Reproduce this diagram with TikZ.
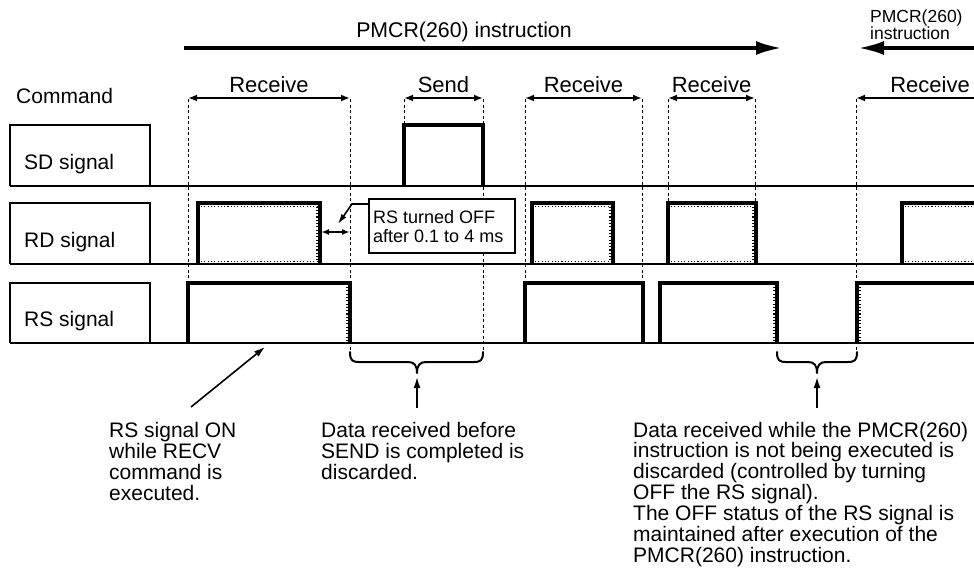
\documentclass[tikz,border=0pt]{standalone}
\usepackage{fontspec}
\setmainfont{Liberation Sans}
\usetikzlibrary{arrows.meta}
\begin{document}
\begin{tikzpicture}[x=1pt,y=-1pt,
  thinl/.style={line width=1.8pt},
  pulse/.style={line width=3.6pt, line join=miter},
  dotin/.style={line width=1.1pt, dash pattern=on 1.1pt off 2.2pt},
  guide/.style={line width=1pt, dash pattern=on 3pt off 2.5pt},
  lbl/.style={inner sep=0pt, anchor=base west, font=\fontsize{21}{21}\selectfont},
  cmd/.style={inner sep=0pt, anchor=base, font=\fontsize{22}{22}\selectfont},
  dimarrow/.style={line width=1.8pt, {Latex[length=9pt,width=7pt]}-{Latex[length=9pt,width=7pt]}},
  dimleft/.style={line width=1.8pt, {Latex[length=9pt,width=7pt]}-},
  bigarrow/.style={line width=4.5pt, -{Latex[length=27pt,width=14pt]}},
  ptr/.style={line width=1.6pt, -{Latex[length=11pt,width=7pt]}},
  bracel/.style={line width=2pt, line join=round, line cap=round}
]
\useasboundingbox (0,0) rectangle (974,570);
\fill[white] (0,0) rectangle (974,570);

% ---------- top instruction arrows ----------
\coordinate (a1s) at (184,48);
\coordinate (a1e) at (783,48);
\coordinate (a2s) at (974,48);
\coordinate (a2e) at (857,48);
\draw[bigarrow] (a1s) -- (a1e);
\draw[bigarrow] (a2s) -- (a2e);
\node[inner sep=0pt, anchor=base, font=\fontsize{21.3}{21}\selectfont] (instr) at (464,37) {PMCR(260) instruction};
\node[inner sep=0pt, anchor=base west, font=\fontsize{17.5}{17}\selectfont] (instr2) at (870,22)
  {\vtop{\baselineskip=17.5pt\hbox{PMCR(260)}\hbox{instruction}}};

% ---------- command row ----------
\node[lbl] (command) at (16,103) {Command};
\foreach \xa/\xb/\nm in {188/350/r1, 404/483/s1, 525/642/r2, 668/755/r3}{
  \coordinate (\nm L) at (\xa,98);
  \coordinate (\nm R) at (\xb,98);
  \draw[dimarrow] (\nm L) -- (\nm R);
}
\coordinate (r4L) at (856,98);
\coordinate (r4R) at (974,98);
\draw[dimleft] (r4L) -- (r4R);
\node[cmd] (rec1) at (269,92) {Receive};
\node[cmd] (send) at (443.5,92) {Send};
\node[cmd] (rec2) at (583.5,92) {Receive};
\node[cmd] (rec3) at (711.5,92) {Receive};
\node[cmd] (rec4) at (930,92) {Receive};

% ---------- guide lines ----------
\foreach \x/\yb in {188/283, 350/352, 404/125, 483/352, 525/283, 642/283, 668/203, 755/203, 856/352}{
  \draw[guide] (\x,99) -- (\x,\yb);
}

% ---------- SD signal ----------
\draw[thinl] (10,186) -- (974,186);
\draw[thinl] (10,186) -- (10,125) -- (150,125) -- (150,186);
\draw[pulse] (404,186) -- (404,125) -- (483,125) -- (483,186);
\node[lbl] (sd) at (24,169) {SD signal};

% ---------- RD signal ----------
\draw[thinl] (10,264) -- (974,264);
\draw[thinl] (10,264) -- (10,203) -- (150,203) -- (150,264);
\foreach \xa/\xb in {198/320, 532/613, 668/756}{
  \draw[dotin] (\xa+3,206.5) -- (\xb-3,206.5);
  \draw[dotin] (\xa+3,261.5) -- (\xb-3,261.5);
  \draw[dotin] (\xb-3,206.5) -- (\xb-3,261.5);
  \draw[pulse] (\xa,264) -- (\xa,203) -- (\xb,203) -- (\xb,264);
}
\draw[dotin] (905,206.5) -- (974,206.5);
\draw[dotin] (905,261.5) -- (974,261.5);
\draw[pulse] (902,264) -- (902,203) -- (976,203);
\node[lbl] (rd) at (24,247) {RD signal};

% ---------- RS signal ----------
\draw[line width=2.2pt] (10,343) -- (974,343);
\draw[thinl] (10,343) -- (10,283) -- (150,283) -- (150,343);
\foreach \xa/\xb in {188/350, 525/643, 660/777}{
  \draw[pulse] (\xa,343) -- (\xa,283) -- (\xb,283) -- (\xb,343);
}
\draw[dotin] (347,287) -- (347,341);
\draw[dotin] (774,287) -- (774,341);
\draw[dotin] (860,287) -- (860,341);
\draw[pulse] (857,343) -- (857,283) -- (976,283);
\node[lbl] (rs) at (24,326) {RS signal};

% ---------- callout ----------
\node[draw, fill=white, line width=1.8pt, inner sep=0pt, anchor=north west,
      minimum width=146pt, minimum height=54pt] (cbox) at (368,198) {};
\node[inner sep=0pt, anchor=base west, font=\fontsize{18}{18}\selectfont] (ctext) at (373,223)
  {\vtop{\baselineskip=19pt\hbox{RS turned OFF}\hbox{after 0.1 to 4 ms}}};
\coordinate (cbend) at (352,204);
\coordinate (ctip) at (338,224);
\draw[line width=1.6pt, -{Latex[length=10pt,width=6pt]}] (cbox.north west |- cbend) -- (cbend) -- (ctip);
\coordinate (dL) at (321,232);
\coordinate (dR) at (350,232);
\draw[line width=1.6pt, {Latex[length=8pt,width=6pt]}-{Latex[length=8pt,width=6pt]}] (dL) -- (dR);

% ---------- braces ----------
\foreach \xl/\xm/\xr in {350/417/483, 777/817/857}{
  \draw[bracel] (\xl,352) .. controls (\xl,360) and (\xl+2,362) .. (\xl+9,362)
    -- (\xm-9,362) .. controls (\xm-3,362) and (\xm,365) .. (\xm,373)
    .. controls (\xm,365) and (\xm+3,362) .. (\xm+9,362)
    -- (\xr-9,362) .. controls (\xr-2,362) and (\xr,360) .. (\xr,352);
}

% ---------- pointers and notes ----------
\coordinate (p1s) at (191,407);
\coordinate (p1e) at (265,347);
\coordinate (p2s) at (417,408);
\coordinate (p2e) at (417,377);
\coordinate (p3s) at (817,408);
\coordinate (p3e) at (817,377);
\draw[ptr] (p1s) -- (p1e);
\draw[ptr] (p2s) -- (p2e);
\draw[ptr] (p3s) -- (p3e);

\node[lbl] (note1) at (109,437)
  {\vtop{\baselineskip=21.2pt\hbox{RS signal ON}\hbox{while RECV}\hbox{command is}\hbox{executed.}}};
\node[lbl] (note2) at (321,437)
  {\vtop{\baselineskip=21.2pt\hbox{Data received before}\hbox{SEND is completed is}\hbox{discarded.}}};
\node[lbl] (note3) at (633,437)
  {\vtop{\baselineskip=20.9pt\hbox{Data received while the PMCR(260)}\hbox{instruction is not being executed is}\hbox{discarded (controlled by turning}\hbox{OFF the RS signal).}\hbox{The OFF status of the RS signal is}\hbox{maintained after execution of the}\hbox{PMCR(260) instruction.}}};
\end{tikzpicture}
\end{document}
